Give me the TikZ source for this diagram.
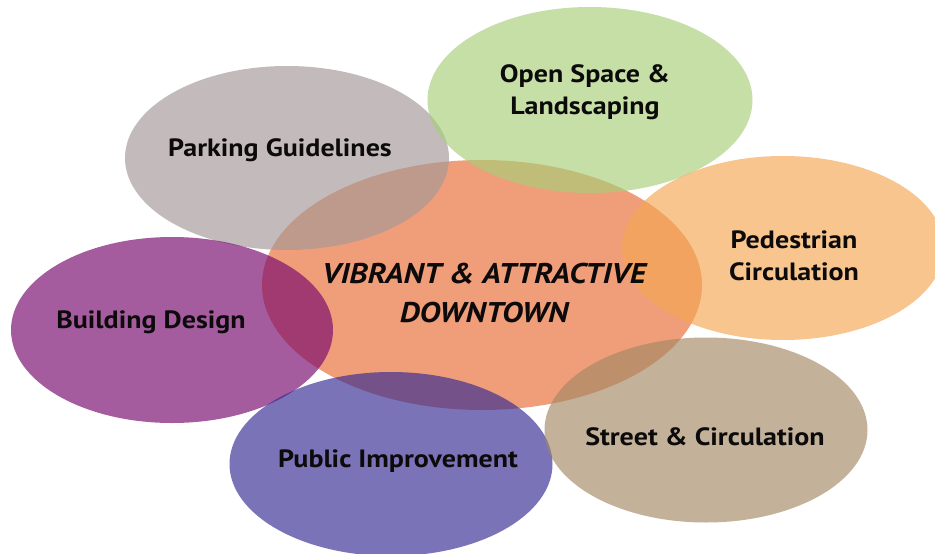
\documentclass[tikz,border=0pt]{standalone}
\usepackage{fontspec}
\setmainfont{PT Sans}[FakeStretch=1.12]
\usetikzlibrary{shapes.geometric}
\definecolor{cSal}{RGB}{240,158,122}
\definecolor{cGray}{RGB}{164,152,152}
\definecolor{cGreen}{RGB}{166,207,120}
\definecolor{cPed}{RGB}{243,167,81}
\definecolor{cPurp}{RGB}{118,5,108}
\definecolor{cBlue}{RGB}{52,41,146}
\definecolor{cTan}{RGB}{163,136,100}
\definecolor{cText}{RGB}{12,10,10}
\tikzset{
  blob/.style={ellipse, inner sep=0pt, draw=none, fill opacity=0.65},
  lbl/.style={anchor=base, text=cText, inner sep=0pt, font=\fontsize{25}{30}\selectfont\bfseries},
  ctr/.style={anchor=base, text=cText, inner sep=0pt, font=\fontsize{28.5}{36}\selectfont\bfseries\itshape}
}
\begin{document}
\begin{tikzpicture}[x=1pt,y=-1pt]
\useasboundingbox (0,0) rectangle (935,554);
\fill[white] (0,0) rectangle (935,554);
% central
\node[ellipse, inner sep=0pt, fill=cSal, minimum width=440pt, minimum height=250pt] (core) at (482,285) {};
% satellites
\node[blob, fill=cGray, minimum width=324pt, minimum height=184pt] (park) at (287,158) {};
\node[blob, fill=cGreen, minimum width=325pt, minimum height=186pt] (open) at (590,100) {};
\node[blob, fill=cPed, minimum width=322pt, minimum height=184pt] (ped) at (783,248) {};
\node[blob, fill=cPurp, minimum width=322pt, minimum height=186pt] (bld) at (172,330) {};
\node[blob, fill=cBlue, minimum width=323pt, minimum height=184pt] (pub) at (391,464) {};
\node[blob, fill=cTan, minimum width=323pt, minimum height=185pt] (str) at (706,430) {};
% labels
\node[lbl] (tpark) at (280,156) {Parking Guidelines};
\node[lbl] (topenA) at (585,82) {Open Space \&};
\node[lbl] (topenB) at (585,114) {Landscaping};
\node[lbl] (tpedA) at (794,248) {Pedestrian};
\node[lbl] (tpedB) at (794,280) {Circulation};
\node[lbl] (tbld) at (151,328) {Building Design};
\node[lbl] (tpub) at (398,467) {Public Improvement};
\node[lbl] (tstr) at (705,445) {Street \& Circulation};
\node[ctr] (tcoreA) at (484,283) {VIBRANT \& ATTRACTIVE};
\node[ctr] (tcoreB) at (484,322) {DOWNTOWN};
\end{tikzpicture}
\end{document}
